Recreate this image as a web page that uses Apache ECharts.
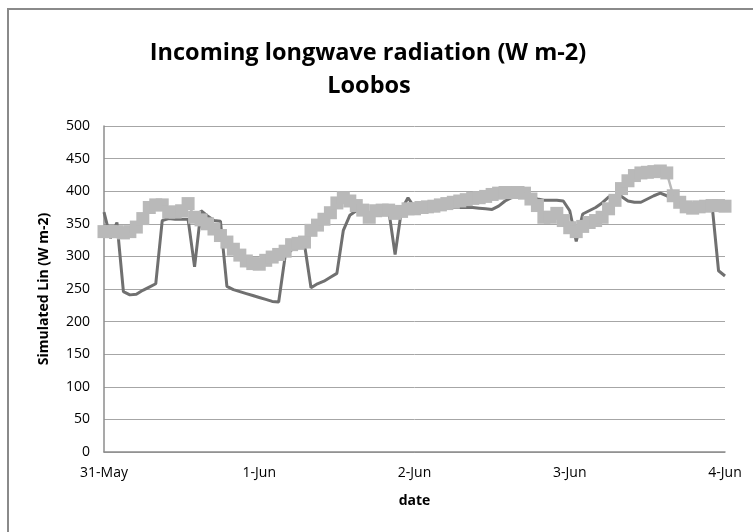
<!DOCTYPE html>
<html>
<head>
<meta charset="utf-8">
<script src="https://cdn.jsdelivr.net/npm/echarts@6/dist/echarts.min.js"></script>
<style>html,body{margin:0;padding:0;background:#fff;}#c{width:753px;height:532px;}</style>
</head>
<body>
<div id="c"></div>
<script>
// Hourly values from 31-May 00:00 (hour 0) to 4-Jun 00:00 (hour 96)
var tickLabels = ['31-May', '1-Jun', '2-Jun', '3-Jun', '4-Jun'];
var hoursPerDay = 24;
var darkSeries = [368,328,352,246,241,242,248,253,258,355,358,357,357,357,284,370,362,355,354,254,
  249,246,243,240,237,234,231,230,300,310,315,318,252,258,262,268,274,340,363,370,
  368,367,369,370,372,303,372,390,375,372,368,372,373,374,375,375,375,375,374,373,
  372,377,385,390,393,392,391,388,386,386,386,385,370,323,365,370,375,382,391,393,
  392,385,383,383,388,393,397,393,386,384,382,381,380,380,379,278,270];
var markerSeries = [338,338,338,336,338,345,358,375,379,379,368,368,370,381,360,356,350,342,332,322,
  311,302,293,289,288,294,299,303,308,318,320,322,340,348,357,367,382,390,385,378,
  371,360,370,371,371,366,369,373,373,375,376,377,379,381,383,385,387,389,390,392,
  395,397,398,398,398,397,388,378,360,360,366,355,344,338,346,352,355,360,373,386,
  404,416,424,428,429,430,431,428,393,383,376,374,376,377,378,378,377];

function pairs(arr){ return arr.map(function(v,i){ return [i, v]; }); }

var FONT = "'Open Sans', sans-serif";
var chart = echarts.init(document.getElementById('c'), null, {renderer:'canvas'});
chart.setOption({
  animation: false,
  backgroundColor: '#fff',
  textStyle: {fontFamily: FONT},
  graphic: [
    {type:'rect', shape:{x:8, y:9, width:780, height:560}, style:{fill:'none', stroke:'#8a8a8a', lineWidth:2}, z:-1},
    {type:'text', x:368, y:53, style:{text:'Incoming longwave radiation (W m-2)', font:"bold 23.5px " + FONT, fill:'#000', textAlign:'center', textVerticalAlign:'middle'}},
    {type:'text', x:369, y:86, style:{text:'Loobos', font:"bold 23.5px " + FONT, fill:'#000', textAlign:'center', textVerticalAlign:'middle'}}
  ],
  grid: {left:104, right:28, top:126, bottom:80, containLabel:false},
  xAxis: {
    type:'value', min:0, max:96, interval:hoursPerDay,
    name:'date', nameLocation:'middle', nameGap:42,
    nameTextStyle:{fontWeight:'bold', fontSize:14, color:'#000', fontFamily:FONT},
    axisLine:{show:true, lineStyle:{color:'#8c8c8c', width:1.5}},
    axisTick:{show:false},
    splitLine:{show:false},
    axisLabel:{color:'#000', fontSize:14, margin:14, fontFamily:FONT,
      formatter:function(v){ return tickLabels[Math.round(v/hoursPerDay)]; }}
  },
  yAxis: {
    type:'value', min:0, max:500, interval:50,
    name:'Simulated Lin (W m-2)', nameLocation:'middle', nameGap:53, nameRotate:90,
    nameTextStyle:{fontWeight:'bold', fontSize:14, color:'#000', fontFamily:FONT},
    axisLine:{show:true, lineStyle:{color:'#8c8c8c', width:1.5}},
    axisTick:{show:false},
    splitLine:{show:true, lineStyle:{color:'#a6a6a6', width:1}},
    axisLabel:{color:'#000', fontSize:14, margin:14, fontFamily:FONT}
  },
  series: [
    {type:'line', data:pairs(darkSeries), showSymbol:false, symbol:'none',
     lineStyle:{color:'#707070', width:3}, z:2},
    {type:'line', data:pairs(markerSeries), symbol:'rect', symbolSize:13, showSymbol:true,
     itemStyle:{color:'#b9b9b9'}, lineStyle:{color:'#b9b9b9', width:2.5}, z:3}
  ]
});
</script>
</body>
</html>
